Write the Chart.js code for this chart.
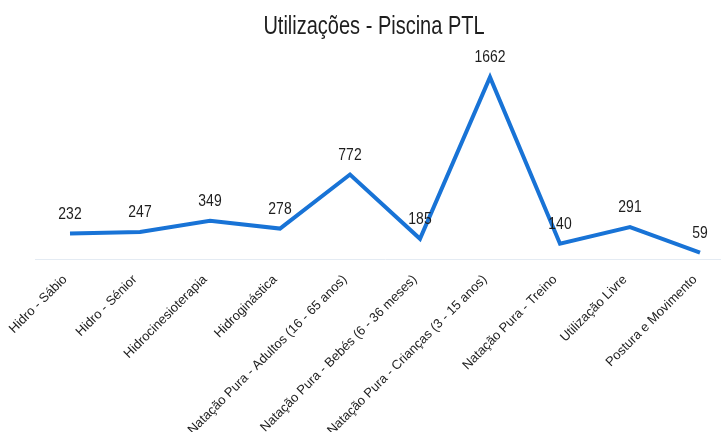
<!DOCTYPE html>
<html>
<head>
<meta charset="utf-8">
<script src="https://cdn.jsdelivr.net/npm/chart.js@4"></script>
<style>
  html, body { margin: 0; padding: 0; background: #fff; overflow: hidden; }
  #wrap { width: 740px; height: 432px; }
</style>
</head>
<body>
<div id="wrap"><canvas id="utilizacoes_chart" width="740" height="432"></canvas></div>
<script>
// dados
const titulo = 'Utilizações - Piscina PTL';
const categorias = [
    'Hidro - Sábio',
    'Hidro - Sénior',
    'Hidrocinesioterapia',
    'Hidroginástica',
    'Natação Pura - Adultos (16 - 65 anos)',
    'Natação Pura - Bebés (6 - 36 meses)',
    'Natação Pura - Crianças (3 - 15 anos)',
    'Natação Pura - Treino',
    'Utilização Livre',
    'Postura e Movimento'
];
const utilizacoes = [232, 247, 349, 278, 772, 185, 1662, 140, 291, 59];

const sans = "'Liberation Sans', Arial, sans-serif";
const ctx = document.getElementById('utilizacoes_chart').getContext('2d');

// texto estreito (tipo Arial Narrow) desenhado com escala horizontal
function narrowText(c, text, x, y, size, squeeze) {
    c.save();
    c.font = size + 'px ' + sans;
    c.fillStyle = '#1e1e1e';
    c.textAlign = 'center';
    c.textBaseline = 'alphabetic';
    c.translate(x, y);
    c.scale(squeeze, 1);
    c.fillText(text, 0, 0);
    c.restore();
}

// titulo + valores por cima de cada ponto
const valueLabels = {
    id: 'valueLabels',
    afterDatasetsDraw(chart) {
        const c = chart.ctx;
        narrowText(c, titulo, 374, 34, 25, 0.8);
        const meta = chart.getDatasetMeta(0);
        meta.data.forEach((pt, i) => {
            narrowText(c, String(utilizacoes[i]), pt.x, pt.y - 15, 17, 0.82);
        });
    }
};

new Chart(ctx, {
    type: 'line',
    data: {
        labels: categorias,
        datasets: [{
            label: 'Utilizações',
            data: utilizacoes,
            borderColor: '#1873d6',
            backgroundColor: '#1873d6',
            borderWidth: 4,
            pointRadius: 0,
            tension: 0,
            fill: false
        }]
    },
    options: {
        responsive: false,
        animation: false,
        layout: { padding: { left: 35, right: 5, top: 62, bottom: 0 } },
        plugins: {
            legend: { display: false },
            tooltip: { enabled: false },
            title: { display: false }
        },
        scales: {
            x: {
                offset: true,
                grid: { display: false, drawTicks: false },
                border: { display: true, color: '#e4ebf3', width: 1 },
                ticks: {
                    autoSkip: false,
                    maxRotation: 45,
                    minRotation: 45,
                    padding: 13,
                    labelOffset: -5,
                    color: '#1e1e1e',
                    font: { family: sans, size: 13 }
                },
                afterFit: scale => { scale.height = 173; }
            },
            y: {
                display: false,
                min: 0,
                max: 1800
            }
        }
    },
    plugins: [valueLabels]
});
</script>
</body>
</html>
